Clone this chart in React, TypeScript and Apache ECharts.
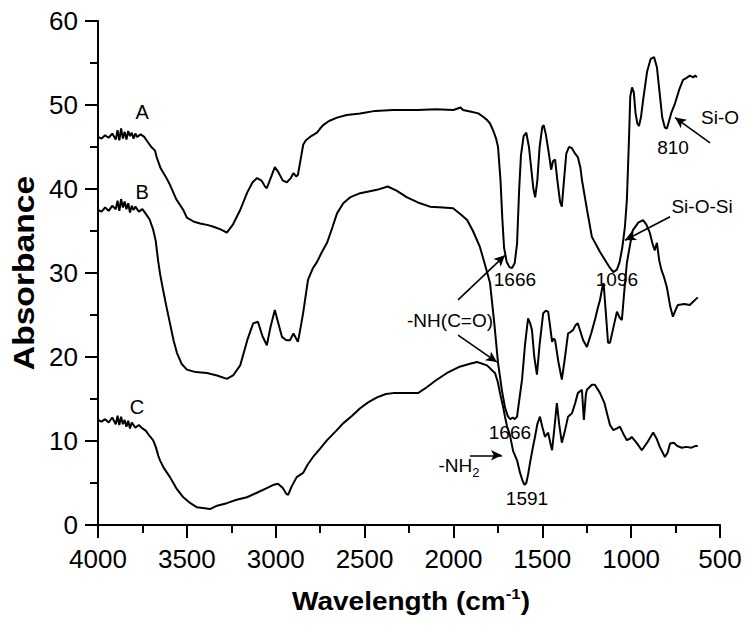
import React, { useEffect, useRef } from "react";
import * as echarts from "echarts";

const FONT = "'Liberation Sans', Arial, Helvetica, sans-serif";

const X_TICKS = [4000, 3500, 3000, 2500, 2000, 1500, 1000, 500];
const Y_TICKS = [0, 10, 20, 30, 40, 50, 60];

const seriesA: number[][] = [
  [4000, 46.2], [3980, 46.0], [3960, 46.4], [3940, 46.1], [3920, 46.6], [3900, 45.9], [3890, 47.0], [3880, 45.8],
  [3870, 47.2], [3860, 46.0], [3850, 46.8], [3840, 45.9], [3830, 46.9], [3820, 46.3], [3810, 46.7], [3800, 46.0],
  [3790, 46.6], [3780, 46.2], [3760, 46.5], [3740, 46.2], [3720, 45.6], [3700, 45.0], [3680, 44.6], [3670, 43.8],
  [3660, 43.2], [3650, 42.6], [3640, 42.2], [3620, 41.5], [3595, 40.5], [3560, 38.8], [3520, 37.5], [3500, 36.6],
  [3460, 36.1], [3425, 35.9], [3380, 35.7], [3350, 35.5], [3310, 35.2], [3275, 34.8], [3240, 35.8], [3200, 37.5],
  [3160, 39.6], [3130, 40.8], [3105, 41.3], [3080, 41.0], [3060, 40.3], [3050, 40.1], [3030, 41.2], [3005, 42.6],
  [2985, 42.0], [2960, 41.0], [2937, 40.8], [2915, 41.3], [2900, 41.9], [2885, 41.5], [2875, 41.7], [2860, 43.5],
  [2845, 45.3], [2830, 45.8], [2800, 46.3], [2768, 46.7], [2750, 47.2], [2733, 47.6], [2700, 48.1], [2655, 48.5],
  [2600, 48.8], [2525, 49.0], [2440, 49.3], [2340, 49.4], [2200, 49.4], [2100, 49.5], [2000, 49.4], [1960, 49.7],
  [1946, 49.4], [1900, 49.2], [1860, 49.0], [1833, 48.6], [1810, 48.2], [1794, 47.8], [1775, 46.9], [1760, 46.0],
  [1749, 45.0], [1735, 41.0], [1725, 36.5], [1715, 33.0], [1700, 31.3], [1685, 30.7], [1670, 30.6], [1655, 31.2],
  [1642, 33.5], [1630, 40.0], [1620, 44.0], [1605, 46.3], [1590, 46.7], [1575, 45.0], [1560, 42.0], [1550, 40.0],
  [1540, 39.0], [1528, 41.0], [1515, 45.0], [1500, 47.4], [1492, 47.6], [1480, 46.5], [1465, 44.5], [1450, 42.3],
  [1440, 43.3], [1428, 43.5], [1415, 41.0], [1400, 38.5], [1390, 37.9], [1378, 41.0], [1365, 44.2], [1350, 45.0],
  [1335, 44.9], [1315, 44.2], [1300, 43.8], [1285, 42.5], [1277, 41.1], [1248, 37.5], [1221, 34.3], [1175, 32.5],
  [1140, 31.3], [1119, 30.6], [1100, 30.1], [1080, 30.4], [1065, 31.3], [1050, 33.0], [1035, 35.5], [1024, 38.7],
  [1012, 46.0], [1005, 51.0], [995, 52.1], [985, 51.5], [975, 49.0], [965, 47.8], [956, 47.5], [945, 48.5],
  [930, 51.0], [910, 54.0], [890, 55.5], [871, 55.7], [855, 54.5], [840, 51.5], [825, 48.5], [810, 47.3],
  [799, 47.2], [788, 48.0], [775, 49.0], [753, 50.2], [730, 51.8], [708, 53.0], [690, 53.2], [670, 53.5],
  [650, 53.3], [640, 53.5], [630, 53.3],
];

const seriesB: number[][] = [
  [4000, 37.5], [3980, 37.3], [3960, 37.8], [3940, 37.4], [3920, 38.0], [3900, 37.6], [3890, 38.6], [3880, 37.4],
  [3870, 38.8], [3860, 37.8], [3850, 38.5], [3840, 37.6], [3830, 38.3], [3820, 37.2], [3810, 38.0], [3800, 37.5],
  [3790, 37.9], [3770, 37.3], [3750, 37.6], [3730, 37.0], [3710, 36.4], [3690, 35.2], [3675, 33.8], [3662, 31.5],
  [3650, 29.8], [3634, 28.0], [3615, 26.0], [3595, 24.0], [3575, 22.0], [3556, 20.5], [3530, 19.2], [3500, 18.5],
  [3450, 18.2], [3387, 18.1], [3330, 17.8], [3275, 17.4], [3240, 17.8], [3200, 19.0], [3160, 22.0], [3127, 24.0],
  [3100, 24.2], [3075, 22.5], [3050, 21.4], [3030, 23.5], [3005, 25.6], [2985, 24.0], [2965, 22.4], [2940, 22.0],
  [2920, 22.0], [2900, 22.8], [2885, 22.2], [2875, 21.8], [2860, 23.5], [2846, 25.2], [2830, 27.5], [2818, 29.2],
  [2790, 30.6], [2768, 31.3], [2740, 32.5], [2711, 33.6], [2680, 35.5], [2655, 37.1], [2620, 38.3], [2582, 39.0],
  [2525, 39.5], [2430, 39.9], [2370, 40.3], [2320, 39.8], [2261, 39.0], [2200, 38.4], [2132, 37.9], [2060, 37.8],
  [2002, 37.7], [1960, 37.0], [1923, 36.3], [1890, 35.0], [1851, 33.1], [1820, 30.8], [1794, 28.8], [1770, 24.0],
  [1749, 19.3], [1727, 16.0], [1710, 14.0], [1693, 12.9], [1680, 12.6], [1665, 12.8], [1655, 12.6], [1642, 12.9],
  [1630, 14.8], [1614, 17.3], [1597, 21.5], [1580, 24.6], [1568, 24.0], [1558, 23.2], [1545, 20.0], [1530, 17.9],
  [1515, 21.5], [1495, 25.2], [1480, 25.5], [1467, 25.4], [1455, 23.5], [1445, 21.8], [1435, 22.2], [1428, 22.0],
  [1410, 19.5], [1390, 17.3], [1372, 20.0], [1355, 22.8], [1340, 23.0], [1327, 23.2], [1313, 23.8], [1300, 24.0],
  [1285, 23.0], [1270, 22.0], [1249, 21.2], [1225, 22.8], [1204, 24.4], [1188, 25.8], [1175, 26.8], [1162, 28.3],
  [1155, 28.8], [1145, 26.0], [1130, 21.7], [1119, 21.7], [1100, 23.5], [1080, 25.4], [1065, 24.7], [1052, 24.4],
  [1040, 27.5], [1024, 31.2], [1005, 33.5], [990, 35.1], [960, 36.0], [933, 36.3], [915, 35.8], [895, 34.8],
  [880, 33.5], [867, 32.7], [855, 33.6], [842, 31.5], [830, 30.4], [815, 29.5], [799, 28.3], [780, 26.0],
  [765, 24.8], [750, 25.6], [737, 26.2], [700, 26.3], [670, 26.2], [650, 26.6], [640, 26.8], [625, 27.1],
];

const seriesC: number[][] = [
  [4000, 12.5], [3980, 12.3], [3960, 12.6], [3940, 12.2], [3920, 12.8], [3900, 12.0], [3890, 13.0], [3880, 11.9],
  [3870, 12.9], [3860, 12.0], [3850, 12.5], [3840, 11.7], [3830, 12.4], [3820, 11.5], [3810, 12.2], [3790, 11.6],
  [3770, 11.9], [3750, 11.5], [3730, 11.2], [3710, 10.6], [3690, 10.1], [3675, 9.3], [3660, 8.2], [3651, 7.7],
  [3630, 6.8], [3595, 5.7], [3560, 4.4], [3520, 3.3], [3480, 2.6], [3443, 2.1], [3400, 2.0], [3370, 1.9],
  [3330, 2.3], [3275, 2.6], [3220, 3.0], [3162, 3.3], [3100, 3.9], [3050, 4.4], [3010, 4.8], [2987, 4.9],
  [2960, 4.4], [2940, 3.7], [2930, 3.6], [2910, 4.6], [2882, 5.7], [2846, 6.2], [2820, 7.2], [2790, 8.1],
  [2750, 9.1], [2711, 10.1], [2660, 11.2], [2621, 12.1], [2570, 13.0], [2525, 13.9], [2480, 14.6], [2430, 15.2],
  [2380, 15.6], [2340, 15.7], [2250, 15.7], [2199, 15.7], [2150, 16.4], [2100, 17.2], [2036, 18.1], [1970, 18.8],
  [1907, 19.2], [1867, 19.4], [1811, 19.0], [1777, 18.3], [1766, 18.1], [1750, 17.0], [1738, 15.7], [1720, 14.0],
  [1710, 12.9], [1698, 11.7], [1682, 10.7], [1664, 8.8], [1642, 7.7], [1625, 6.2], [1610, 5.2], [1600, 4.8],
  [1590, 5.0], [1580, 6.0], [1569, 7.4], [1555, 9.0], [1541, 10.5], [1528, 12.0], [1513, 12.9], [1500, 11.7],
  [1485, 10.5], [1467, 11.0], [1455, 9.8], [1445, 8.9], [1432, 11.5], [1418, 14.5], [1405, 12.0], [1390, 9.8],
  [1375, 11.0], [1355, 12.9], [1333, 13.3], [1315, 14.5], [1300, 15.7], [1277, 16.1], [1266, 12.5], [1255, 15.5],
  [1249, 16.1], [1221, 16.7], [1204, 16.7], [1175, 15.7], [1150, 14.5], [1136, 13.3], [1119, 11.9], [1100, 11.3],
  [1080, 11.5], [1063, 11.7], [1045, 10.9], [1024, 10.1], [1005, 10.3], [997, 10.5], [970, 9.8], [940, 8.9],
  [910, 9.8], [876, 11.0], [855, 10.2], [839, 9.3], [810, 8.1], [795, 8.6], [781, 9.7], [760, 9.8],
  [740, 9.4], [715, 9.2], [690, 9.3], [660, 9.2], [640, 9.4], [625, 9.4],
];

// annotation texts: [text, wavenumber, absorbance, fontSize]
const LABELS: [string, number, number, number][] = [
  ["A", 3752, 49.2, 20],
  ["B", 3752, 39.6, 20],
  ["C", 3781, 14.0, 20],
  ["1666", 1654, 29.2, 19],
  ["1096", 1080, 29.2, 19],
  ["-NH(C=O)", 2019, 24.4, 19],
  ["Si-O-Si", 601, 37.9, 19],
  ["Si-O", 500, 48.5, 19],
  ["810", 764, 44.9, 19],
  ["1666", 1682, 11.0, 19],
  ["1591", 1586, 3.2, 19],
];

// arrows: [fromWn, fromAbs, toWn, toAbs]
const ARROWS: [number, number, number, number][] = [
  [1974, 26.8, 1710, 32.1],
  [1974, 22.6, 1755, 19.4],
  [781, 36.7, 1035, 33.9],
  [556, 45.5, 753, 48.5],
  [1907, 8.3, 1727, 8.3],
];

const NH2_POS: [number, number] = [1969, 7.1];

export default function App() {
  const ref = useRef<HTMLDivElement>(null);

  useEffect(() => {
    document.body.style.margin = "0";
    if (!ref.current) return;
    const chart = echarts.init(ref.current, null, { renderer: "svg" });

    const axisCommon = {
      type: "value" as const,
      axisLine: { show: true, onZero: false, lineStyle: { color: "#000", width: 2 } },
      axisTick: { show: true, inside: false, length: 13, lineStyle: { color: "#000", width: 2 } },
      minorTick: { show: true, splitNumber: 2, length: 8, lineStyle: { color: "#000", width: 2 } },
      splitLine: { show: false },
      minorSplitLine: { show: false },
    };

    const lineSeries = (name: string, data: number[][]) => ({
      name,
      type: "line",
      data,
      showSymbol: false,
      symbol: "none",
      lineStyle: { color: "#000", width: 2 },
      itemStyle: { color: "#000" },
      emphasis: { disabled: true },
      silent: true,
    });

    const seriesArr: any[] = [
      lineSeries("A", seriesA),
      lineSeries("B", seriesB),
      lineSeries("C", seriesC),
    ];
    seriesArr[2].markLine = {
      silent: true,
      symbol: ["none", "arrow"],
      symbolSize: [8, 11],
      animation: false,
      label: { show: false },
      lineStyle: { color: "#000", width: 1.6, type: "solid" },
      emphasis: { disabled: true },
      data: ARROWS.map((a) => [
        { coord: [a[0], a[1]] },
        { coord: [a[2], a[3]] },
      ]),
    };

    chart.setOption({
      animation: false,
      backgroundColor: "#fff",
      grid: { left: 98, right: 30, top: 21, bottom: 115, containLabel: false },
      xAxis: {
        ...axisCommon,
        min: 500,
        max: 4000,
        interval: 500,
        inverse: true,
        axisLabel: {
          color: "#000",
          fontSize: 26,
          fontFamily: FONT,
          margin: 21,
          formatter: (v: number) => (X_TICKS.includes(v) ? String(v) : ""),
        },
      },
      yAxis: {
        ...axisCommon,
        min: 0,
        max: 60,
        interval: 10,
        axisLabel: {
          color: "#000",
          fontSize: 26,
          fontFamily: FONT,
          margin: 20,
          formatter: (v: number) => (Y_TICKS.includes(v) ? String(v) : ""),
        },
      },
      series: seriesArr,
    });

    const px = (x: number, y: number) => chart.convertToPixel({ gridIndex: 0 }, [x, y]) as number[];
    const left = px(4000, 0);
    const right = px(500, 60);

    const graphics: any[] = LABELS.map(([t, x, y, fs]) => {
      const p = px(x, y);
      return {
        type: "text",
        x: p[0],
        y: p[1],
        silent: true,
        style: {
          text: t,
          fill: "#000",
          fontSize: fs,
          fontFamily: FONT,
          align: "center",
          verticalAlign: "middle",
          textAlign: "center",
          textVerticalAlign: "middle",
        },
      };
    });

    const nh = px(NH2_POS[0], NH2_POS[1]);
    graphics.push({
      type: "text",
      x: nh[0],
      y: nh[1],
      silent: true,
      style: {
        text: "-NH{sub|2}",
        fill: "#000",
        fontSize: 19,
        fontFamily: FONT,
        lineHeight: 28,
        align: "center",
        verticalAlign: "middle",
        textAlign: "center",
        textVerticalAlign: "middle",
        rich: {
          sub: { fontSize: 13, fontFamily: FONT, fill: "#000", verticalAlign: "bottom", lineHeight: 14 },
        },
      },
    });

    graphics.push({
      type: "text",
      x: (left[0] + right[0]) / 2 + 2,
      y: left[1] + 77,
      scaleX: 1.12,
      silent: true,
      style: {
        text: "Wavelength (cm{sup|-1})",
        fill: "#000",
        fontSize: 25,
        fontWeight: "bold",
        fontFamily: FONT,
        lineHeight: 32,
        align: "center",
        verticalAlign: "middle",
        textAlign: "center",
        textVerticalAlign: "middle",
        rich: {
          sup: { fontSize: 15, fontWeight: "bold", fontFamily: FONT, fill: "#000", verticalAlign: "top", lineHeight: 16 },
        },
      },
    });

    graphics.push({
      type: "text",
      x: 24,
      y: (left[1] + right[1]) / 2,
      rotation: Math.PI / 2,
      scaleX: 1.16,
      silent: true,
      style: {
        text: "Absorbance",
        fill: "#000",
        fontSize: 29,
        fontWeight: "bold",
        fontFamily: FONT,
        align: "center",
        verticalAlign: "middle",
        textAlign: "center",
        textVerticalAlign: "middle",
      },
    });

    chart.setOption({ graphic: graphics });

    return () => chart.dispose();
  }, []);

  return <div ref={ref} style={{ width: 750, height: 640 }} />;
}
